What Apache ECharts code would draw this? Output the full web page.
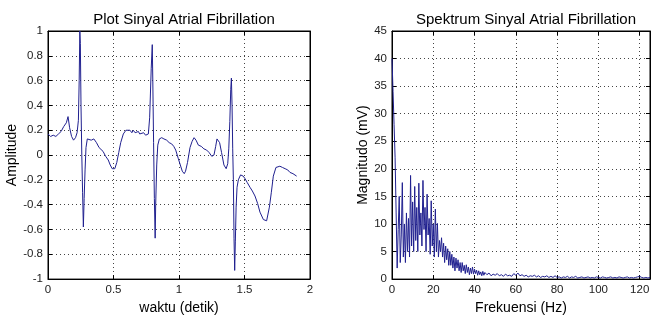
<!DOCTYPE html>
<html lang="en">

<head>
    <meta charset="UTF-8">
    <title>Sinyal Atrial Fibrillation</title>
    <style>
        html, body { margin: 0; padding: 0; background: #fff; }
        #chart { width: 653px; height: 320px; }
    </style>
    <script src="https://cdn.jsdelivr.net/npm/echarts@6/dist/echarts.min.js"></script>
</head>

<body>
    <div id="chart"></div>
    <script>
        // sinyal AF (detik, amplitudo)
        var waktu = [0, 0.02, 0.04, 0.06, 0.08, 0.1, 0.12, 0.14, 0.153, 0.165, 0.18, 0.195, 0.21, 0.222, 0.232, 0.238, 0.243, 0.247, 0.252, 0.258, 0.264, 0.27, 0.276, 0.283, 0.29, 0.3, 0.315, 0.33, 0.35, 0.37, 0.39, 0.42, 0.44, 0.46, 0.475, 0.49, 0.5, 0.51, 0.525, 0.54, 0.555, 0.575, 0.595, 0.61, 0.626, 0.64, 0.651, 0.665, 0.69, 0.7, 0.715, 0.73, 0.745, 0.766, 0.776, 0.782, 0.788, 0.796, 0.8, 0.806, 0.812, 0.818, 0.822, 0.83, 0.838, 0.85, 0.868, 0.885, 0.906, 0.925, 0.944, 0.96, 0.975, 0.995, 1.01, 1.025, 1.04, 1.05, 1.065, 1.084, 1.1, 1.115, 1.13, 1.148, 1.17, 1.19, 1.211, 1.23, 1.25, 1.267, 1.28, 1.29, 1.3, 1.31, 1.325, 1.343, 1.36, 1.372, 1.38, 1.388, 1.395, 1.4, 1.405, 1.41, 1.415, 1.42, 1.425, 1.43, 1.436, 1.443, 1.453, 1.47, 1.49, 1.504, 1.52, 1.542, 1.56, 1.58, 1.6, 1.618, 1.644, 1.669, 1.69, 1.705, 1.72, 1.74, 1.755, 1.77, 1.79, 1.81, 1.83, 1.847, 1.87, 1.898];
        var amplitudo = [0.17, 0.15, 0.16, 0.15, 0.17, 0.19, 0.23, 0.26, 0.31, 0.22, 0.15, 0.12, 0.14, 0.18, 0.28, 0.6, 1.0, 0.9, 0.4, 0.0, -0.3, -0.58, -0.35, -0.12, 0.06, 0.13, 0.14, 0.12, 0.13, 0.1, 0.06, 0.03, -0.01, -0.04, -0.08, -0.11, -0.12, -0.11, -0.06, 0.02, 0.1, 0.17, 0.2, 0.19, 0.2, 0.18, 0.2, 0.18, 0.19, 0.17, 0.16, 0.18, 0.16, 0.17, 0.3, 0.5, 0.7, 0.89, 0.6, 0.1, -0.35, -0.67, -0.4, -0.08, 0.08, 0.13, 0.14, 0.13, 0.12, 0.1, 0.09, 0.07, 0.04, -0.03, -0.08, -0.13, -0.15, -0.13, -0.06, 0.06, 0.11, 0.14, 0.12, 0.08, 0.07, 0.05, 0.04, 0.02, -0.01, 0.0, 0.07, 0.13, 0.14, 0.1, 0.02, -0.08, -0.11, -0.07, 0.05, 0.27, 0.53, 0.62, 0.4, 0.05, -0.2, -0.67, -0.93, -0.7, -0.42, -0.26, -0.2, -0.16, -0.17, -0.19, -0.22, -0.26, -0.29, -0.33, -0.39, -0.46, -0.52, -0.53, -0.42, -0.3, -0.17, -0.1, -0.09, -0.09, -0.1, -0.11, -0.12, -0.14, -0.15, -0.17];

        // spektrum (Hz, mV)
        var frekuensi = [0, 0.5, 1, 1.5, 2, 2.5, 3, 3.5, 4, 4.5, 5, 5.5, 6, 6.5, 7, 7.5, 8, 8.5, 9, 9.5, 10, 10.5, 11, 11.5, 12, 12.5, 13, 13.5, 14, 14.5, 15, 15.5, 16, 16.5, 17, 17.5, 18, 18.5, 19, 19.5, 20, 20.5, 21, 21.5, 22, 22.5, 23, 23.5, 24, 24.5, 25, 25.5, 26, 26.5, 27, 27.5, 28, 28.5, 29, 29.5, 30, 30.5, 31, 31.5, 32, 32.5, 33, 33.5, 34, 34.5, 35, 35.5, 36, 36.5, 37, 37.5, 38, 38.5, 39, 39.5, 40, 40.5, 41, 41.5, 42, 42.5, 43, 43.5, 44, 44.5, 45,
            46, 47, 48, 49, 50, 51, 52, 53, 54, 55, 56, 57, 58, 59, 60, 61, 62, 63, 64, 65, 66, 67, 68, 69, 70, 71, 72, 73, 74, 75, 76, 77, 78, 79, 80, 81, 82, 83, 84, 85, 86, 87, 88, 89, 90, 91, 92, 93, 94, 95, 96, 97, 98, 99, 100, 101, 102, 103, 104, 105, 106, 107, 108, 109, 110, 111, 112, 113, 114, 115, 116, 117, 118, 119, 120, 121, 122, 123, 124, 125];
        var magnitudo = [40, 34, 28, 22, 12, 2, 9, 15, 3, 8, 17.5, 4, 10, 3, 12, 5, 11, 4, 18.8, 6, 14, 5, 16.8, 7, 13, 5, 17.4, 8, 12, 6, 17.9, 9, 13, 5, 15.4, 8, 11, 4.5, 14.2, 6, 10, 4, 12.7, 5, 10.1, 4, 7, 5, 7.5, 4, 6.5, 3, 6, 3.5, 5.5, 2.5, 5, 2.5, 4.5, 2, 4, 1.5, 3.8, 2, 3.5, 1.5, 3, 1.2, 3, 1.5, 2.5, 1, 2.6, 1.2, 2.2, 0.8, 2, 1, 2.2, 0.9, 1.8, 1, 1.6, 0.7, 1.5, 0.8, 1.3, 0.6, 1.4, 0.7, 1.2,
            0.8, 1.1, 0.6, 0.9, 0.7, 1.0, 0.6, 0.8, 0.5, 0.9, 0.6, 0.7, 0.5, 1.0, 0.7, 1.1, 0.6, 0.8, 0.5, 0.7, 0.4, 0.6, 0.5, 0.7, 0.4, 0.6, 0.3, 0.5, 0.4, 0.6, 0.3, 0.5, 0.3, 0.6, 0.3, 0.4, 0.2, 0.4, 0.3, 0.5, 0.2, 0.4, 0.3, 0.5, 0.2, 0.3, 0.4, 0.2, 0.3, 0.4, 0.2, 0.3, 0.2, 0.4, 0.3, 0.2, 0.4, 0.3, 0.2, 0.3, 0.4, 0.2, 0.3, 0.2, 0.4, 0.3, 0.2, 0.3, 0.4, 0.2, 0.3, 0.2, 0.3, 0.4, 0.5, 0.3, 0.2, 0.3, 0.2, 0.3];

        var lineColor = '#20208f';
        var font = 'Liberation Sans, Arial, sans-serif';

        function zip(xs, ys) {
            return xs.map(function (x, i) { return [x, ys[i]]; });
        }

        // axis builder: main axis with labels + mirror axis for MATLAB-style box ticks
        function axis(opt, mirror) {
            var base = {
                type: 'value',
                gridIndex: opt.grid,
                min: opt.min,
                max: opt.max,
                interval: opt.interval,
                axisLine: { show: true, onZero: false, lineStyle: { color: '#000', width: 1 } },
                axisTick: { show: true, inside: true, length: 4, lineStyle: { color: '#000' } },
                axisLabel: { show: !mirror, color: '#222', fontSize: 11.5, fontFamily: font, margin: 5, showMaxLabel: opt.showMax !== false },
                splitLine: { show: !mirror, lineStyle: { color: '#444', type: [1, 3], width: 1 } }
            };
            if (opt.position) base.position = opt.position;
            if (opt.name && !mirror) {
                base.name = opt.name;
                base.nameLocation = 'middle';
                base.nameGap = opt.nameGap;
                base.nameTextStyle = { color: '#000', fontSize: 14, fontFamily: font };
            }
            return base;
        }

        var myChart = echarts.init(document.getElementById('chart'));
        var option = {
            animation: false,
            backgroundColor: '#fff',
            title: [{
                text: 'Plot Sinyal Atrial Fibrillation',
                left: 179, top: 7, textAlign: 'center',
                textStyle: { fontSize: 15, fontWeight: 'normal', color: '#000', fontFamily: font }
            }, {
                text: 'Spektrum Sinyal Atrial Fibrillation',
                left: 521, top: 7, textAlign: 'center',
                textStyle: { fontSize: 15, fontWeight: 'normal', color: '#000', fontFamily: font }
            }],
            grid: [
                { left: 48, top: 31, width: 262, height: 257, show: true, borderColor: '#000', borderWidth: 1, backgroundColor: '#fff' },
                { left: 392, top: 31, width: 258, height: 257, show: true, borderColor: '#000', borderWidth: 1, backgroundColor: '#fff' }
            ],
            xAxis: [
                axis({ grid: 0, min: 0, max: 2, interval: 0.5, name: 'waktu (detik)', nameGap: 19 }),
                axis({ grid: 0, min: 0, max: 2, interval: 0.5, position: 'top' }, true),
                axis({ grid: 1, min: 0, max: 125, interval: 20, name: 'Frekuensi (Hz)', nameGap: 19, showMax: false }),
                axis({ grid: 1, min: 0, max: 125, interval: 20, position: 'top' }, true)
            ],
            yAxis: [
                axis({ grid: 0, min: -1, max: 1, interval: 0.2, name: 'Amplitude', nameGap: 29 }),
                axis({ grid: 0, min: -1, max: 1, interval: 0.2, position: 'right' }, true),
                axis({ grid: 1, min: 0, max: 45, interval: 5, name: 'Magnitudo (mV)', nameGap: 22 }),
                axis({ grid: 1, min: 0, max: 45, interval: 5, position: 'right' }, true)
            ],
            series: [{
                type: 'line',
                xAxisIndex: 0,
                yAxisIndex: 0,
                showSymbol: false,
                lineStyle: { color: lineColor, width: 1 },
                data: zip(waktu, amplitudo)
            }, {
                type: 'line',
                xAxisIndex: 2,
                yAxisIndex: 2,
                showSymbol: false,
                lineStyle: { color: lineColor, width: 1 },
                data: zip(frekuensi, magnitudo)
            }]
        };
        myChart.setOption(option);
    </script>
</body>

</html>
